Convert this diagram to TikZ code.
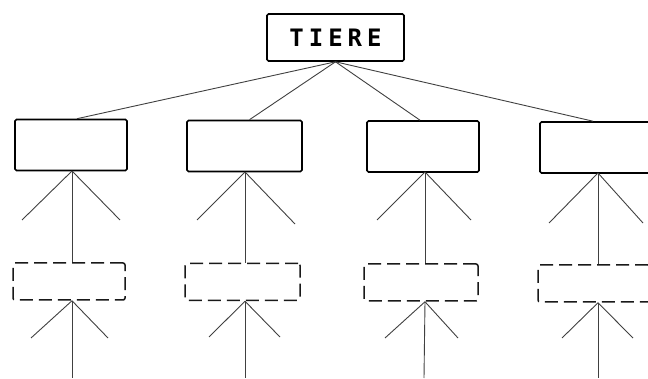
\documentclass[tikz,border=0pt]{standalone}
\usepackage{fontspec}
\newfontfamily\tierefont{DejaVu Sans Mono}
\begin{document}
\begin{tikzpicture}[x=1pt,y=-1pt,
  solidbox/.style={draw=black,line width=1.6pt,rounded corners=1.5pt,minimum width=112pt,minimum height=51pt,inner sep=0pt,fill=white},
  dashbox/.style={draw=black!90,line width=1.5pt,rounded corners=2pt,dash pattern=on 13pt off 6pt,minimum width=112pt,minimum height=37pt,inner sep=0pt},
  topbox/.style={draw=black,line width=1.6pt,rounded corners=1.5pt,minimum width=137pt,minimum height=47pt,inner sep=0pt,font=\tierefont\bfseries\fontsize{24}{24}\selectfont},
  conn/.style={draw=black!75,line width=0.9pt}]
\useasboundingbox (0,0) rectangle (648,379);
\clip (0,0) rectangle (648,379);
% top node
\node[topbox] (t) at (335.5,37.5) {T\kern5pt I\kern5pt E\kern5pt R\kern5pt E};
% level 1 boxes
\node[solidbox] (b1) at (71,145) {};
\node[solidbox,minimum width=115pt] (b2) at (244.5,146) {};
\node[solidbox] (b3) at (423,146.5) {};
\node[solidbox] (b4) at (596,147.5) {};
% dashed boxes
\node[dashbox] (d1) at (69,281.5) {};
\node[dashbox,minimum width=115pt] (d2) at (242.5,282) {};
\node[dashbox,minimum width=114pt] (d3) at (421,282.5) {};
\node[dashbox] (d4) at (594,283.5) {};
% connectors from top
\draw[conn] (t.south) -- ([xshift=6pt]b1.north);
\draw[conn] (t.south) -- ([xshift=5pt]b2.north);
\draw[conn] (t.south) -- ([xshift=-3pt]b3.north);
\draw[conn] (t.south) -- ([xshift=-3pt]b4.north);
% branch origins (upper)
\coordinate (u1) at (72,171);
\coordinate (u2) at (245,172);
\coordinate (u3) at (425,172);
\coordinate (u4) at (598,173);
% branch ends (upper)
\coordinate (ul1) at (22,220);  \coordinate (ur1) at (120,220);
\coordinate (ul2) at (197,220); \coordinate (ur2) at (295,224);
\coordinate (ul3) at (377,220); \coordinate (ur3) at (471,220);
\coordinate (ul4) at (549,223); \coordinate (ur4) at (643,223);
% branch ends (lower)
\coordinate (ll1) at (31,338);  \coordinate (lr1) at (108,338);
\coordinate (ll2) at (209,337); \coordinate (lr2) at (280,337);
\coordinate (ll3) at (385,338); \coordinate (lr3) at (458,338);
\coordinate (ll4) at (562,338); \coordinate (lr4) at (633,338);
% bottom ends
\coordinate (z1) at (72,378);
\coordinate (z2) at (245,378);
\coordinate (z3) at (424,378);
\coordinate (z4) at (598,378);
\foreach \i in {1,2,3,4}{
  \draw[conn] (u\i) -- (ul\i);
  \draw[conn] (u\i) -- (ur\i);
  \draw[conn] (u\i) -- (u\i |- d\i.north);
  \coordinate (w\i) at (u\i |- d\i.south);
  \draw[conn] (w\i) -- (ll\i);
  \draw[conn] (w\i) -- (lr\i);
  \draw[conn] (w\i) -- (z\i);
}
\end{tikzpicture}
\end{document}
